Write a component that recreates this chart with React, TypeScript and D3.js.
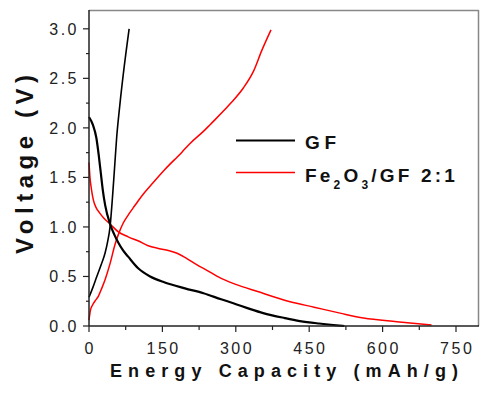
import React from "react";
import * as d3 from "d3";

const xTicks = [0, 150, 300, 450, 600, 750];
const xMinorTicks = [75, 225, 375, 525, 675];
const yTicks = [0, 0.5, 1.0, 1.5, 2.0, 2.5, 3.0];
const yMinorTicks = [0.25, 0.75, 1.25, 1.75, 2.25, 2.75];

// GF discharge
const gfDisCap = [0, 8, 15, 20, 24, 28, 33, 43, 52, 60, 70, 80, 101, 125, 155, 196, 234, 270, 295, 330, 356, 400, 431, 470, 499, 522];
const gfDisV = [2.11, 2.03, 1.9, 1.72, 1.55, 1.38, 1.22, 1.03, 0.92, 0.84, 0.76, 0.7, 0.58, 0.5, 0.44, 0.38, 0.33, 0.27, 0.23, 0.17, 0.13, 0.08, 0.05, 0.025, 0.01, 0.0];
// GF charge
const gfChCap = [0, 8, 16, 25, 33, 38, 43, 48, 52, 56.5, 63, 72, 82];
const gfChV = [0.29, 0.39, 0.5, 0.62, 0.74, 0.85, 1.0, 1.3, 1.58, 1.9, 2.23, 2.62, 3.0];
// Fe2O3/GF discharge
const feDisCap = [0, 2, 5, 9, 15, 22, 30, 43, 60, 80, 100, 121, 140, 160, 180, 200, 220, 240, 270, 300, 343, 411, 460, 513, 561, 629, 700];
const feDisV = [1.65, 1.5, 1.38, 1.27, 1.19, 1.14, 1.09, 1.03, 0.95, 0.9, 0.86, 0.81, 0.785, 0.765, 0.735, 0.68, 0.62, 0.565, 0.48, 0.42, 0.35, 0.245, 0.19, 0.13, 0.08, 0.043, 0.01];
// Fe2O3/GF charge
const feChCap = [0, 3, 7, 12, 19, 26, 33, 43, 53, 62, 70, 80, 90, 100, 114, 128, 155, 189, 206, 237, 247, 288, 315, 336, 353, 372];
const feChV = [0.06, 0.16, 0.21, 0.25, 0.3, 0.38, 0.47, 0.63, 0.82, 0.95, 1.04, 1.12, 1.19, 1.26, 1.35, 1.43, 1.58, 1.75, 1.84, 1.98, 2.03, 2.24, 2.4, 2.57, 2.78, 2.99];

const W = 480;
const H = 396;
const L = 89, R = 479, T = 10, B = 326;

export default function App() {
  const x = d3.scaleLinear().domain([0, 797]).range([L, R]);
  const y = d3.scaleLinear().domain([0, 3.19]).range([B, T]);
  const line = d3
    .line<[number, number]>()
    .x((d) => x(d[0]))
    .y((d) => y(d[1]))
    .curve(d3.curveMonotoneX);
  const zip = (a: number[], b: number[]) => a.map((v, i) => [v, b[i]] as [number, number]);

  const font = "'Liberation Sans', Arial, sans-serif";

  return (
    <svg
      width={W}
      height={H}
      style={{ position: "absolute", left: 0, top: 0, background: "#fff" }}
    >
      <rect x={0} y={0} width={W} height={H} fill="#fff" />
      {/* frame */}
      <line x1={L} x2={R - 0.5} y1={T + 0.5} y2={T + 0.5} stroke="#888" strokeWidth={1.5} />
      <line x1={R - 0.5} x2={R - 0.5} y1={T} y2={B} stroke="#888" strokeWidth={1.5} />

      {/* curves */}
      <path d={line(zip(feDisCap, feDisV)) || ""} fill="none" stroke="#ff0000" strokeWidth={1.5} />
      <path d={line(zip(feChCap, feChV)) || ""} fill="none" stroke="#ff0000" strokeWidth={1.5} />
      <path d={line(zip(gfDisCap, gfDisV)) || ""} fill="none" stroke="#000" strokeWidth={2.2} />
      <path d={line(zip(gfChCap, gfChV)) || ""} fill="none" stroke="#000" strokeWidth={1.6} />

      {/* axes */}
      <line x1={L} x2={L} y1={T} y2={B} stroke="#222" strokeWidth={1.5} />
      <line x1={L} x2={R} y1={B} y2={B} stroke="#222" strokeWidth={1.5} />
      {yTicks.map((t) => (
        <line key={"yt" + t} x1={L - 6} x2={L} y1={y(t)} y2={y(t)} stroke="#222" strokeWidth={1.2} />
      ))}
      {yMinorTicks.map((t) => (
        <line key={"ym" + t} x1={L - 3} x2={L} y1={y(t)} y2={y(t)} stroke="#222" strokeWidth={1.2} />
      ))}
      {xTicks.map((t) => (
        <line key={"xt" + t} x1={x(t)} x2={x(t)} y1={B} y2={B + 6} stroke="#222" strokeWidth={1.2} />
      ))}
      {xMinorTicks.map((t) => (
        <line key={"xm" + t} x1={x(t)} x2={x(t)} y1={B} y2={B + 4} stroke="#222" strokeWidth={1.2} />
      ))}

      {/* tick labels */}
      {yTicks.map((t) => (
        <text
          key={"yl" + t}
          x={79}
          y={y(t) + 5.8}
          textAnchor="end"
          fontFamily={font}
          fontSize={16}
          letterSpacing={2.5}
          fill="#222"
        >
          {d3.format(".1f")(t)}
        </text>
      ))}
      {xTicks.map((t) => (
        <text
          key={"xl" + t}
          x={x(t) + 1.2}
          y={354}
          textAnchor="middle"
          fontFamily={font}
          fontSize={16}
          letterSpacing={2.5}
          fill="#222"
        >
          {String(t)}
        </text>
      ))}

      {/* axis titles */}
      <text
        x={110}
        y={377}
        fontFamily={font}
        fontWeight="bold"
        fontSize={18}
        textLength={348}
        lengthAdjust="spacing"
        fill="#111"
      >
        Energy Capacity (mAh/g)
      </text>
      <text
        transform="translate(33,254) rotate(-90)"
        x={0}
        y={0}
        fontFamily={font}
        fontWeight="bold"
        fontSize={24}
        textLength={179}
        lengthAdjust="spacing"
        fill="#111"
      >
        Voltage (V)
      </text>

      {/* legend */}
      <line x1={236} x2={295} y1={140.5} y2={140.5} stroke="#000" strokeWidth={2.2} />
      <text x={305} y={149} fontFamily={font} fontWeight="bold" fontSize={19} textLength={31} lengthAdjust="spacing" fill="#111">
        GF
      </text>
      <line x1={236} x2={295} y1={172.5} y2={172.5} stroke="#ff0000" strokeWidth={1.5} />
      <text x={305} y={182} fontFamily={font} fontWeight="bold" fontSize={19} letterSpacing={3.2} fill="#111">
        <tspan>Fe</tspan>
        <tspan fontSize={12} dy={7}>2</tspan>
        <tspan dy={-7}>O</tspan>
        <tspan fontSize={12} dy={7}>3</tspan>
        <tspan dy={-7}>/GF 2:1</tspan>
      </text>
    </svg>
  );
}
